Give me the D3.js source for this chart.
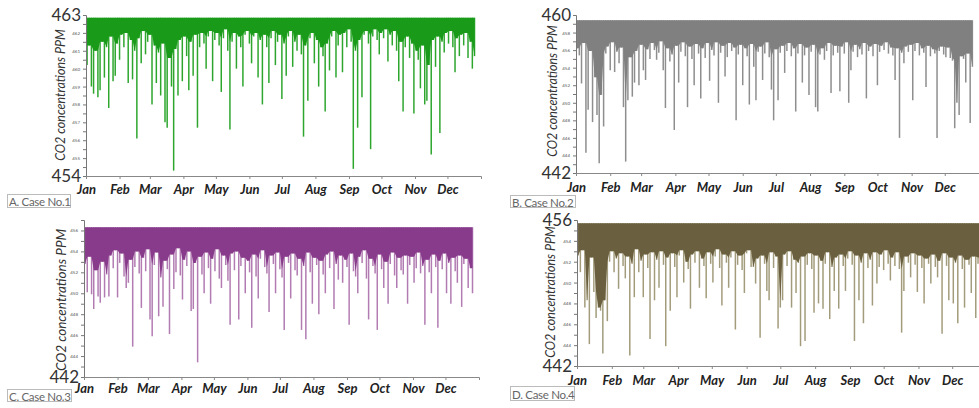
<!DOCTYPE html>
<meta charset="utf-8">
<style>
  body { margin: 0; background: #fff; }
  svg { display: block; }
</style>
<svg width="979" height="408"></svg>
<script src="https://cdn.jsdelivr.net/npm/d3@7/dist/d3.min.js"></script>
<script>

// two-day minimum CO2 readings (ppm), Jan 1 -> late Dec, 15 per row
var caseA = [
  460.2, 461.3, 459.0, 458.6, 461.0, 458.4, 458.8, 461.5, 459.5, 461.2, 457.8, 461.8, 459.3, 459.6, 461.4,
  460.5, 461.9, 461.2, 462.0, 459.2, 461.6, 459.4, 461.0, 456.1, 461.7, 460.3, 462.1, 460.8, 461.5, 461.9,
  458.0, 461.3, 459.2, 460.9, 458.5, 461.4, 457.0, 456.7, 460.6, 459.0, 454.3, 461.1, 458.5, 461.6, 459.3,
  461.8, 460.7, 458.8, 461.5, 459.6, 461.9, 456.7, 461.2, 462.0, 461.4, 460.0, 461.8, 462.1, 459.3, 461.6,
  462.0, 461.3, 458.7, 461.7, 462.2, 461.0, 456.6, 461.5, 462.0, 460.0, 461.8, 461.2, 459.0, 461.9, 462.1,
  461.4, 460.3, 461.8, 462.0, 459.5, 461.6, 458.0, 461.9, 461.2, 459.2, 461.7, 462.1, 460.2, 461.5, 461.9,
  458.3, 461.4, 459.6, 461.8, 462.1, 460.1, 461.5, 461.0, 461.9, 460.8, 456.2, 461.3, 458.2, 461.7, 462.0,
  460.3, 461.6, 459.0, 461.2, 460.7, 457.6, 461.4, 459.9, 461.8, 462.1, 459.5, 461.3, 461.9, 459.8, 462.0,
  461.2, 462.2, 461.5, 454.4, 461.0, 456.7, 461.6, 458.4, 461.9, 462.1, 461.4, 455.5, 461.8, 462.2, 461.6,
  460.8, 462.0, 461.7, 462.2, 460.4, 461.9, 461.3, 462.1, 461.0, 459.3, 461.5, 457.6, 461.2, 461.8, 460.6,
  461.4, 457.5, 461.0, 460.5, 458.9, 461.3, 458.0, 458.2, 460.2, 455.2, 461.6, 460.1, 461.8, 456.4, 461.5,
  460.9, 462.0, 461.4, 462.1, 461.2, 459.8, 461.7, 460.7, 461.9, 461.3, 462.0, 460.6, 461.5, 460.0, 460.7
];
var caseB = [
  456.2, 455.4, 452.2, 456.8, 444.3, 449.2, 455.9, 447.8, 452.9, 448.6, 443.1, 450.9, 447.3, 455.6, 456.4,
  453.7, 456.9, 453.5, 455.8, 454.5, 456.3, 449.5, 443.3, 450.3, 455.2, 450.7, 452.3, 455.9, 452.0, 456.6,
  453.7, 452.6, 456.1, 455.0, 456.8, 456.0, 454.9, 455.7, 457.0, 453.7, 449.4, 456.2, 454.7, 455.5, 446.9,
  456.5, 452.3, 455.8, 456.9, 455.3, 449.5, 456.4, 455.0, 452.0, 456.7, 455.6, 450.5, 456.2, 455.1, 456.8,
  452.5, 456.0, 455.4, 456.9, 450.0, 455.7, 456.5, 453.0, 455.2, 456.8, 455.9, 456.3, 448.0, 455.5, 456.6,
  452.0, 456.2, 455.3, 449.8, 456.7, 454.1, 450.3, 455.8, 456.4, 452.6, 455.6, 456.9, 455.2, 451.5, 448.0,
  456.1, 450.3, 455.7, 456.5, 453.4, 455.9, 456.8, 455.3, 456.2, 449.0, 455.6, 456.7, 452.3, 455.4, 456.3,
  450.9, 455.8, 456.6, 449.5, 449.0, 455.5, 456.2, 454.9, 455.9, 456.8, 451.1, 455.4, 456.5, 455.7, 451.3,
  456.4, 455.6, 456.9, 450.0, 453.7, 455.8, 456.6, 455.2, 456.1, 455.5, 456.8, 450.5, 455.9, 456.4, 455.3,
  456.7, 452.0, 455.8, 456.5, 456.0, 456.9, 455.6, 456.3, 455.4, 452.6, 456.2, 446.0, 455.7, 454.5, 456.4,
  455.8, 456.6, 450.3, 455.9, 456.8, 455.4, 456.2, 455.7, 451.8, 456.5, 455.3, 456.1, 455.6, 446.0, 455.9,
  456.4, 455.5, 455.2, 456.3, 455.1, 454.8, 447.1, 450.0, 448.6, 455.3, 455.0, 452.3, 455.6, 447.7, 454.1
];
var caseC = [
  452.8, 450.1, 453.5, 449.9, 448.5, 452.2, 449.7, 449.1, 453.0, 449.6, 451.8, 449.7, 453.6, 452.4, 454.1,
  449.6, 452.9, 453.8, 451.6, 450.5, 451.0, 453.2, 444.9, 452.5, 454.0, 451.9, 448.6, 453.4, 452.1, 454.2,
  447.5, 445.9, 452.7, 453.9, 447.8, 451.5, 448.7, 453.1, 452.3, 446.1, 453.7, 450.4, 452.0, 454.3, 451.7,
  449.4, 453.2, 452.6, 454.0, 448.3, 448.5, 452.9, 443.4, 453.5, 451.8, 450.0, 453.9, 452.4, 449.0, 453.3,
  452.1, 454.2, 451.4, 450.5, 453.6, 452.7, 451.2, 447.0, 453.8, 452.2, 454.0, 447.5, 452.6, 453.4, 450.0,
  453.1, 452.0, 446.7, 453.7, 451.6, 449.5, 453.3, 454.1, 452.5, 451.9, 448.2, 453.6, 452.8, 450.0, 453.9,
  452.3, 451.5, 446.5, 453.5, 452.9, 449.5, 453.8, 452.2, 451.7, 453.3, 446.5, 452.6, 445.6, 453.9, 452.0,
  449.0, 453.4, 452.7, 448.0, 453.1, 451.8, 450.0, 453.7, 452.4, 454.0, 448.5, 452.8, 451.3, 453.6, 451.0,
  453.2, 452.5, 447.0, 453.8, 452.1, 451.6, 450.0, 453.5, 452.9, 454.1, 451.4, 447.5, 453.3, 452.6, 451.9,
  446.5, 453.7, 452.3, 450.5, 453.0, 449.0, 452.8, 453.9, 451.7, 450.5, 453.4, 452.2, 451.8, 453.6, 449.0,
  452.7, 453.5, 451.0, 452.4, 453.9, 451.9, 452.6, 447.0, 453.2, 452.0, 450.0, 453.7, 452.5, 446.7, 453.1,
  452.3, 453.8, 450.0, 452.9, 449.0, 453.4, 452.1, 451.0, 453.6, 448.7, 452.8, 453.3, 450.5, 452.4, 450.0
];
var caseD = [
  452.6, 451.0, 453.1, 447.6, 448.3, 444.1, 452.4, 449.1, 446.6, 447.6, 447.3, 443.2, 448.3, 446.3, 452.0,
  453.0, 451.0, 452.3, 449.4, 452.8, 451.6, 450.4, 452.5, 443.0, 451.8, 448.6, 453.2, 451.0, 452.1, 448.6,
  452.7, 451.4, 444.6, 452.9, 448.3, 452.2, 449.5, 453.0, 451.7, 443.9, 452.4, 447.3, 452.8, 451.5, 448.6,
  452.6, 453.1, 450.0, 452.0, 451.3, 447.5, 452.7, 451.9, 453.0, 449.5, 452.3, 451.6, 448.5, 452.9, 451.8,
  450.0, 452.5, 453.2, 451.4, 447.8, 452.7, 451.9, 449.5, 452.4, 453.0, 445.5, 451.7, 452.6, 451.2, 449.0,
  452.8, 453.1, 451.5, 451.5, 449.9, 452.3, 444.7, 452.6, 451.8, 449.2, 448.3, 452.9, 451.4, 452.5, 445.6,
  447.6, 448.3, 452.7, 451.6, 453.0, 447.6, 452.2, 449.0, 451.9, 443.9, 452.5, 444.4, 451.7, 452.8, 451.3,
  447.1, 452.6, 448.0, 452.1, 447.5, 451.8, 452.9, 446.5, 451.5, 449.2, 452.4, 447.5, 452.7, 451.6, 449.2,
  452.3, 453.0, 451.7, 444.4, 452.6, 448.3, 451.9, 446.1, 452.8, 451.4, 452.2, 447.8, 452.9, 449.9, 451.5,
  452.7, 451.2, 453.1, 451.8, 450.2, 452.4, 451.6, 452.9, 451.3, 445.2, 449.2, 452.5, 451.9, 450.5, 452.8,
  451.7, 449.1, 452.6, 451.4, 448.0, 452.3, 451.8, 449.9, 452.7, 451.5, 450.5, 452.1, 445.1, 452.8, 451.6,
  448.3, 452.4, 448.0, 451.9, 446.1, 452.6, 451.3, 447.6, 452.2, 451.7, 449.0, 452.5, 446.6, 451.8, 452.4
];

// hourly ceiling reached every day in each case
var ceilings = [462.85, 459.4, 456.3, 455.7];
var yDomains = [[454, 463], [442, 460], [442, 457], [442, 456]];
var yLabelSteps = [1, 2, 2, 2];
var caseLabels = ["A. Case No.1", "B. Case No.2", "C. Case No.3", "D. Case No.4"];
var yTitle = "CO2 concentrations PPM";

var panels = [
  {id: "A", values: caseA, x0: 86, x1: 481, yTop: 15, yBot: 176, pad: 5.5, box: [7, 194, 63, 13], title: [60, 95, 12.5],
   dark: "#199a19", light: "#2ea62e"},
  {id: "B", values: caseB, x0: 576, x1: 979, yTop: 15, yBot: 173, pad: 6.5, box: [510, 195, 65, 12], title: [552, 91, 12.5],
   dark: "#808080", light: "#8e8e8e"},
  {id: "C", values: caseC, x0: 84, x1: 479, yTop: 220, yBot: 377, pad: 3.5, box: [7, 389, 64, 12], title: [61, 300, 13.5],
   dark: "#883a8b", light: "#b27cb2"},
  {id: "D", values: caseD, x0: 577, x1: 987, yTop: 220, yBot: 366, pad: 6.5, box: [510, 386, 64, 14], title: [550, 292, 12.5],
   dark: "#6a5f3e", light: "#a39c7c"}
];

var svg = d3.select("svg");
var yearStart = new Date(2019, 0, 1), yearEnd = new Date(2020, 0, 1);

panels.forEach(function(p, k) {
  var dom = yDomains[k], top = ceilings[k];
  var x = d3.scaleTime().domain([yearStart, yearEnd]).range([p.x0, p.x1]);
  var y = d3.scaleLinear().domain(dom).range([p.yBot, p.yTop]);
  var g = svg.append("g");
  var vals = p.values;
  var xi = function(i) { return x(d3.timeDay.offset(yearStart, 2 * i + 1)); };

  // dense band: every hour between ceiling and the shallowest neighbouring minimum
  var band = d3.area()
      .x(function(d, i) { return xi(i); })
      .y0(y(top))
      .y1(function(d, i) { return y(d3.max(vals.slice(Math.max(0, i - 1), i + 2))); });

  // each two-day minimum as a thin drop from the ceiling
  g.append("g")
      .attr("stroke", p.light)
      .attr("stroke-width", 1.5)
    .selectAll("line")
    .data(vals)
    .enter().append("line")
      .attr("x1", function(d, i) { return xi(i); })
      .attr("x2", function(d, i) { return xi(i); })
      .attr("y1", y(top))
      .attr("y2", function(d) { return y(d); });

  g.append("path")
      .datum(vals)
      .attr("fill", p.dark)
      .attr("d", band);

  // y axis: large end labels, tiny inner labels
  var step = yLabelSteps[k];
  var yAxis = d3.axisLeft(y)
      .tickValues(d3.range(dom[0], dom[1] + 1e-6, step / 2))
      .tickSizeOuter(0)
      .tickSize(3)
      .tickPadding(3)
      .tickFormat(function(d) { return Math.abs((d - dom[0]) / step - Math.round((d - dom[0]) / step)) < 1e-6 ? d : ""; });
  var ya = g.append("g")
      .attr("transform", "translate(" + p.x0 + ",0)")
      .call(yAxis);
  ya.select(".domain").attr("stroke", "#777");
  ya.selectAll(".tick line").attr("stroke", "#777");
  ya.selectAll(".tick text")
      .attr("fill", "#555")
      .attr("font-family", "Lato, sans-serif")
      .attr("font-size", 4.5)
      .filter(function(d) { return d === dom[0] || d === dom[1]; })
      .attr("font-size", 17)
      .attr("fill", "#333")
      .attr("x", -5);

  // x axis with month names
  var xa = g.append("g")
      .attr("transform", "translate(0," + p.yBot + ")")
      .call(d3.axisBottom(x)
        .ticks(d3.timeMonth.every(1))
        .tickFormat(d3.timeFormat("%b"))
        .tickSizeOuter(0)
        .tickSize(3)
        .tickPadding(p.pad));
  xa.select(".domain").attr("stroke", "#888");
  xa.selectAll(".tick line").attr("stroke", "#888");
  xa.selectAll(".tick")
      .filter(function(d) { return d >= yearEnd; })
      .remove();
  xa.selectAll(".tick text")
      .attr("fill", "#222")
      .attr("font-family", "Lato, sans-serif")
      .attr("font-weight", "bold")
      .attr("font-style", "italic")
      .attr("font-size", 13);

  // y title
  g.append("text")
      .attr("transform", "translate(" + p.title[0] + "," + p.title[1] + ") rotate(-90)")
      .attr("text-anchor", "middle")
      .attr("dominant-baseline", "central")
      .attr("font-family", "Lato, sans-serif")
      .attr("font-style", "italic")
      .attr("font-size", p.title[2])
      .attr("fill", "#333")
      .text(yTitle);

  // case label box
  g.append("rect")
      .attr("x", p.box[0] + 0.5)
      .attr("y", p.box[1] + 0.5)
      .attr("width", p.box[2])
      .attr("height", p.box[3])
      .attr("fill", "none")
      .attr("stroke", "#bbb");
  g.append("text")
      .attr("x", p.box[0] + 2)
      .attr("y", p.box[1] + p.box[3] / 2 + 1)
      .attr("dominant-baseline", "central")
      .attr("font-family", "Lato, sans-serif")
      .attr("font-size", 11.5)
      .attr("letter-spacing", -0.3)
      .attr("fill", "#666")
      .text(caseLabels[k]);
});

</script>
